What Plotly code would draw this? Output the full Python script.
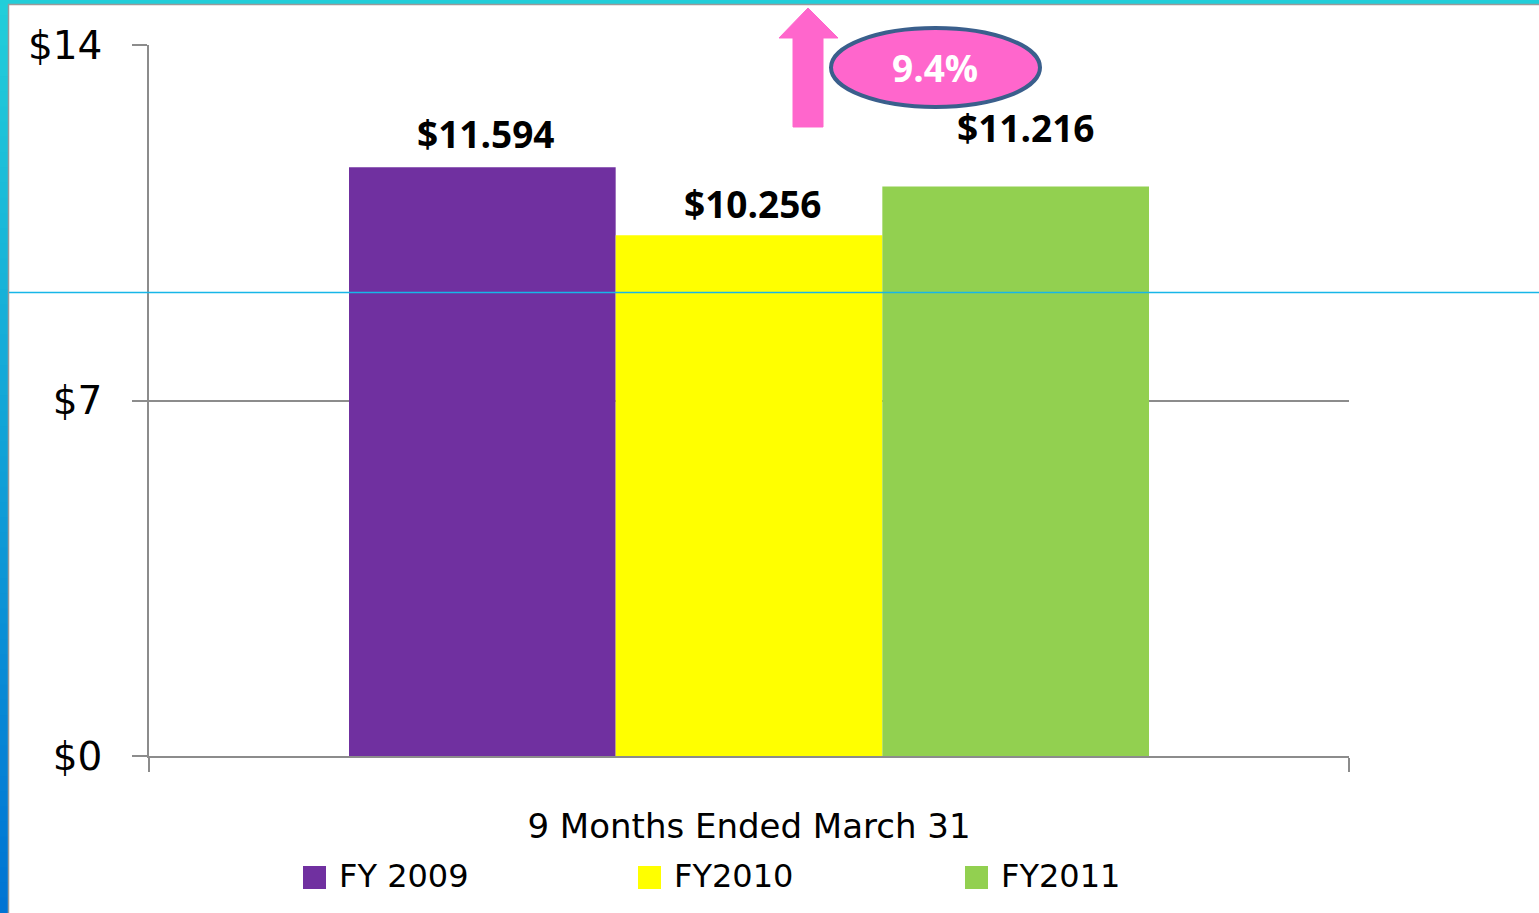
import plotly.graph_objects as go

# ---------------- data ----------------
category = ["9 Months Ended March 31"]
series_names = ["FY 2009", "FY2010", "FY2011"]
series_values = [11.594, 10.256, 11.216]
series_labels = ["$11.594", "$10.256", "$11.216"]
series_colors = ["#7030A0", "#FFFF00", "#92D050"]
y_ticks = [0, 7, 14]
growth_label = "9.4%"

# ---------------- geometry helpers ----------------
W, H = 1539, 913
L, T, R, B = 149, 45, 1349, 756
PW, PH = R - L, B - T


def px(x):
    return (x - L) / PW


def py(y):
    return (B - y) / PH


fig = go.Figure()
for name, val, col in zip(series_names, series_values, series_colors):
    fig.add_trace(go.Bar(x=category, y=[val], name=name, marker_color=col,
                         marker_line_width=0, showlegend=False))

shapes = []
annotations = []

# frame: left gradient band
n = 60
c0 = (0x22, 0xCE, 0xDA)
c1 = (0x00, 0x74, 0xD4)
for i in range(n):
    t = i / (n - 1)
    c = tuple(int(round(a + (b - a) * t)) for a, b in zip(c0, c1))
    y0 = H * i / n
    y1 = H * (i + 1) / n + 1
    shapes.append(dict(type="rect", xref="paper", yref="paper", layer="below",
                       x0=px(0), x1=px(8), y0=py(y1), y1=py(y0),
                       fillcolor="rgb(%d,%d,%d)" % c, line_width=0))
# top cyan band
shapes.append(dict(type="rect", xref="paper", yref="paper", layer="below",
                   x0=px(0), x1=px(W), y0=py(4), y1=py(-1),
                   fillcolor="#22CED9", line_width=0))
# grey frame lines
shapes.append(dict(type="line", xref="paper", yref="paper", layer="below",
                   x0=px(8), x1=px(W), y0=py(4.5), y1=py(4.5),
                   line=dict(color="#9A9A9A", width=1.5)))
shapes.append(dict(type="line", xref="paper", yref="paper", layer="below",
                   x0=px(8.5), x1=px(8.5), y0=py(4), y1=py(H),
                   line=dict(color="#9A9A9A", width=1.5)))
# cyan horizontal guide line
shapes.append(dict(type="line", xref="paper", yref="paper", layer="above",
                   x0=px(9), x1=px(W), y0=py(292.5), y1=py(292.5),
                   line=dict(color="#17B6E8", width=1.5)))

# pink arrow
ax = [808, 838, 823, 823, 793, 793, 779, 808]
ay = [8, 38, 38, 127, 127, 38, 38, 8]
path = "M " + " L ".join("%.5f,%.5f" % (px(a), py(b)) for a, b in zip(ax, ay)) + " Z"
shapes.append(dict(type="path", xref="paper", yref="paper", path=path,
                   fillcolor="#FF66CC", line=dict(color="#FF66CC", width=1)))
# ellipse
shapes.append(dict(type="circle", xref="paper", yref="paper",
                   x0=px(831), x1=px(1040), y0=py(107), y1=py(28),
                   fillcolor="#FF66CC", line=dict(color="#3A5F8C", width=4)))
annotations.append(dict(xref="paper", yref="paper", x=px(935), y=py(68),
                        text="<b>%s</b>" % growth_label, showarrow=False,
                        font=dict(family="Open Sans", size=37, color="white"),
                        xanchor="center", yanchor="middle"))

# data labels
bar_w = PW * (2 / 3) / 3
offsets = [-bar_w + 4, 4, bar_w + 10]
yshifts = [34, 32, 59]
for lab, val, off, ys in zip(series_labels, series_values, offsets, yshifts):
    annotations.append(dict(xref="x", yref="y", x=category[0], y=val,
                            xshift=off, yshift=ys, text="<b>%s</b>" % lab,
                            showarrow=False, xanchor="center", yanchor="middle",
                            font=dict(family="Open Sans", size=37, color="black")))

# legend (custom, large swatches)
leg_x = [303, 638, 965]
for name, col, lx in zip(series_names, series_colors, leg_x):
    shapes.append(dict(type="rect", xref="paper", yref="paper",
                       x0=px(lx), x1=px(lx + 23), y0=py(889), y1=py(866),
                       fillcolor=col, line_width=0))
    annotations.append(dict(xref="paper", yref="paper", x=px(lx + 34), y=py(876),
                            text=name, showarrow=False, xanchor="left",
                            yanchor="middle",
                            font=dict(family="DejaVu Sans", size=32, color="black")))

fig.update_layout(
    width=W, height=H,
    margin=dict(l=L, r=W - R, t=T, b=H - B, autoexpand=False),
    paper_bgcolor="white", plot_bgcolor="white",
    barmode="group", bargap=1 / 3, bargroupgap=0,
    showlegend=False,
    shapes=shapes, annotations=annotations,
    font=dict(family="DejaVu Sans", color="black"),
)
fig.update_yaxes(range=[0, 14], tickvals=y_ticks,
                 ticktext=["$%d" % v for v in y_ticks],
                 tickfont=dict(family="DejaVu Sans", size=39, color="black"),
                 showgrid=True, gridcolor="#8C8C8C", gridwidth=1.5,
                 showline=True, linecolor="#8C8C8C", linewidth=1.5,
                 ticks="outside", ticklen=15, tickcolor="#8C8C8C", tickwidth=1.5,
                 ticklabelstandoff=22, zeroline=False, fixedrange=True)
fig.update_xaxes(type="category", tickson="boundaries",
                 tickfont=dict(family="DejaVu Sans", size=34, color="black"),
                 showline=True, linecolor="#8C8C8C", linewidth=1.5,
                 ticks="outside", ticklen=14, tickcolor="#8C8C8C", tickwidth=1.5,
                 ticklabelstandoff=39, showgrid=False, fixedrange=True)

fig.write_html("out.html", config={"displayModeBar": False})
